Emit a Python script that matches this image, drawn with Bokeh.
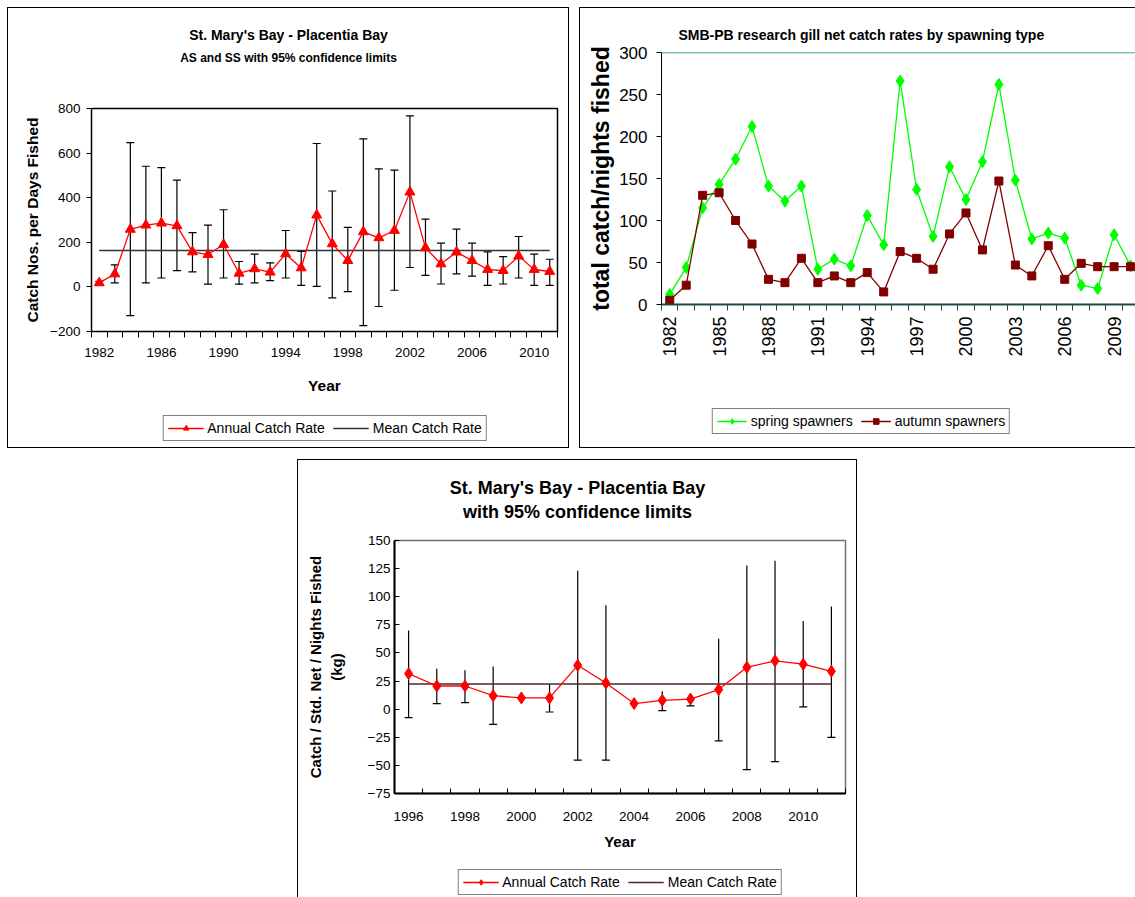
import math
from bokeh.plotting import figure
from bokeh.models import (ColumnDataSource, Whisker, TeeHead, Legend, LegendItem,
                          FixedTicker, Title, Span, Spacer, Range1d, InlineStyleSheet)
from bokeh.layouts import row, column
from bokeh.embed import file_html
from bokeh.resources import INLINE

SANS = "Liberation Sans"

# ---- St. Mary's Bay - Placentia Bay, AS and SS (catch numbers per days fished)
years_a = list(range(1982, 2012))
rate_a = [18, 58, 258, 277, 286, 274, 157, 145, 190, 61, 81, 66, 148, 85, 322,
          193, 118, 247, 220, 253, 425, 175, 103, 156, 118, 78, 73, 138, 78, 69]
upper_a = [25, 99, 647, 541, 535, 479, 243, 277, 346, 114, 147, 108, 253, 159, 643,
           430, 267, 664, 529, 524, 767, 304, 196, 259, 196, 157, 136, 226, 147, 124]
lower_a = [11, 18, -129, 18, 40, 73, 67, 12, 40, 12, 18, 28, 40, 7, 2,
           -49, -21, -174, -88, -15, 87, 52, 13, 58, 48, 7, 13, 40, 7, 7]
mean_a = 163
xticks_a = [1982, 1986, 1990, 1994, 1998, 2002, 2006, 2010]
yticks_a = [-200, 0, 200, 400, 600, 800]

# ---- SMB-PB research gill net catch rates by spawning type
years_b = list(range(1982, 2011))
spring_b = [12, 44, 115, 143, 173, 212, 141, 123, 141, 42, 54, 46, 106, 71, 266,
            137, 81, 164, 125, 170, 262, 148, 78, 85, 79, 23, 19, 83, 46]
autumn_b = [5, 23, 130, 133, 100, 72, 30, 26, 55, 26, 34, 26, 38, 15, 63,
            55, 42, 84, 109, 65, 147, 47, 34, 70, 30, 49, 45, 45, 45]
xticks_b = [1982, 1985, 1988, 1991, 1994, 1997, 2000, 2003, 2006, 2009]
yticks_b = [0, 50, 100, 150, 200, 250, 300]

# ---- St. Mary's Bay - Placentia Bay (kg per std. net per nights fished)
years_c = list(range(1996, 2012))
rate_c = [31.6, 20.6, 20.6, 12, 10, 10, 39, 23.3, 5, 7.9, 9, 17.4, 37.2, 43, 40, 33.7]
upper_c = [70, 36, 34.5, 38, 10, 22.4, 123, 92.5, 5, 16, 14, 62.6, 127.8, 132, 78.4, 91.3]
lower_c = [-7.5, 5, 5.8, -13.5, 10, -2.5, -45.4, -45.4, 5, -1.3, 3, -28.2, -53.7, -46.6, 2, -25]
mean_c = 22.4
xticks_c = [1996, 1998, 2000, 2002, 2004, 2006, 2008, 2010]
yticks_c = [-75, -50, -25, 0, 25, 50, 75, 100, 125, 150]

# glyph styles shared by the charts and their legend strips
RATE_LINE = dict(line_color="red", line_width=1.3)
TRI = dict(marker="triangle", size=10, color="red")
DIAM = dict(marker="diamond", size=12, color="red")
MEAN_A = dict(line_color="#333333", line_width=1.6)
MEAN_C = dict(line_color="#4a2a2a", line_width=1.6)
SPRING_LINE = dict(line_color="#00FF00", line_width=1.3)
SPRING_PTS = dict(marker="diamond", size=12, color="#00FF00")
AUTUMN_LINE = dict(line_color="#800000", line_width=1.3)
AUTUMN_PTS = dict(marker="square", size=8, color="#800000")

PANEL_FRAME = InlineStyleSheet(css=":host { outline: 1px solid #000; outline-offset: 0px; }")


def boundaries(years):
    return [y - 0.5 for y in years] + [years[-1] + 0.5]


def bare_fig(width, height, **kw):
    """Axis-less, frame-less figure used for the title and legend strips."""
    f = figure(width=width, height=height, output_backend="svg", toolbar_location=None,
               x_axis_location=None, y_axis_location=None,
               x_range=Range1d(0, 1), y_range=Range1d(0, 1), **kw)
    f.xgrid.visible = False
    f.ygrid.visible = False
    f.outline_line_color = None
    f.border_fill_color = "white"
    f.background_fill_color = "white"
    return f


def base_fig(width, height, xr, yr, borders, title=None):
    left, right, top, bottom = borders
    p = figure(width=width, height=height, x_range=xr, y_range=yr,
               output_backend="svg", toolbar_location=None, title=title,
               min_border_left=left, min_border_right=right,
               min_border_top=top, min_border_bottom=bottom)
    p.xgrid.visible = False
    p.ygrid.visible = False
    p.background_fill_color = "white"
    p.border_fill_color = "white"
    return p


def title_strip(width, height, top, main, main_size, main_standoff,
                sub, sub_size, sub_standoff):
    """Two centred bold title lines spanning the whole panel width."""
    tf = bare_fig(width, height, title=main, min_border_left=0, min_border_right=0,
                  min_border_bottom=0, min_border_top=top)
    tf.title.align = "center"
    tf.title.text_font = SANS
    tf.title.text_font_size = main_size
    tf.title.text_font_style = "bold"
    tf.title.text_color = "black"
    tf.title.standoff = main_standoff
    tf.add_layout(Title(text=sub, align="center", text_font=SANS, text_font_size=sub_size,
                        text_font_style="bold", text_color="black",
                        standoff=sub_standoff), "above")
    return tf


def legend_strip(width, height, entries, glyph_width, font_size):
    """A horizontal legend on its own strip.

    The series are re-plotted here with the same styles; the strip's ranges
    keep them out of view so that only the legend swatches show.
    """
    lf = bare_fig(width, height, min_border=0)
    items = []
    for label, parts in entries:
        rs = []
        for kind, xs, ys, kw in parts:
            if kind == "line":
                rs.append(lf.line(xs, ys, **kw))
            else:
                rs.append(lf.scatter(xs, ys, **kw))
        items.append(LegendItem(label=label, renderers=rs))
    leg = Legend(items=items, location="center", orientation="horizontal",
                 border_line_color="black", border_line_width=1,
                 label_text_font=SANS, label_text_font_size=font_size,
                 label_text_color="black", glyph_width=glyph_width, glyph_height=14,
                 spacing=8, padding=4, label_standoff=4, margin=0,
                 background_fill_color="white")
    lf.add_layout(leg)
    return lf


# ======================= panel 1 =======================
tf1 = title_strip(560, 70, 57, "St. Mary's Bay - Placentia Bay", "14px", 10,
                  "AS and SS with 95% confidence limits", "12px", 2)

p1 = base_fig(560, 334, Range1d(1981.5, 2011.5), Range1d(-200, 800), (83, 11, 30, 81))
p1.outline_line_color = "black"
p1.outline_line_width = 1.5

src_a = ColumnDataSource(dict(x=years_a, upper=upper_a, lower=lower_a))
p1.add_layout(Whisker(source=src_a, base="x", upper="upper", lower="lower",
                      line_color="black", line_width=1.2, level="underlay",
                      upper_head=TeeHead(size=8, line_color="black", line_width=1.2),
                      lower_head=TeeHead(size=8, line_color="black", line_width=1.2)))
mean_line_a = [mean_a] * len(years_a)
p1.line(years_a, mean_line_a, **MEAN_A)
p1.line(years_a, rate_a, **RATE_LINE)
p1.scatter(years_a, rate_a, **TRI)

for ax in (p1.xaxis[0], p1.yaxis[0]):
    ax.axis_line_color = "black"
    ax.major_label_text_font = SANS
    ax.major_label_text_font_size = "13.5px"
    ax.major_label_text_color = "black"
    ax.axis_label_text_font = SANS
    ax.axis_label_text_font_style = "bold"
    ax.axis_label_text_font_size = "15.5px"
    ax.axis_label_text_color = "black"

p1.xaxis.ticker = FixedTicker(ticks=xticks_a, minor_ticks=boundaries(years_a))
p1.xaxis.major_tick_line_color = None
p1.xaxis.minor_tick_line_color = "black"
p1.xaxis.minor_tick_in = 0
p1.xaxis.minor_tick_out = 6
p1.xaxis.major_label_standoff = 10
p1.xaxis.axis_label = "Year"
p1.xaxis.axis_label_standoff = 17

p1.yaxis.ticker = FixedTicker(ticks=yticks_a)
p1.yaxis.minor_tick_line_color = None
p1.yaxis.major_tick_in = 0
p1.yaxis.major_tick_out = 5
p1.yaxis.major_label_standoff = 6
p1.yaxis.axis_label = "Catch Nos. per Days Fished"
p1.yaxis.axis_label_standoff = 6

lf1 = legend_strip(467, 31, [
    ("Annual Catch Rate", [("line", years_a, rate_a, RATE_LINE),
                           ("scatter", years_a, rate_a, TRI)]),
    ("Mean Catch Rate", [("line", years_a, mean_line_a, MEAN_A)]),
], 36, "14px")

# ======================= panel 2 =======================
p2 = base_fig(555, 397, Range1d(1981.5, 2010.3), Range1d(0, 300), (81, 0, 44, 101),
              "SMB-PB research gill net catch rates by spawning type")
p2.title.align = "left"
p2.title.offset = 17
p2.title.text_font = SANS
p2.title.text_font_size = "14px"
p2.title.text_font_style = "bold"
p2.title.text_color = "black"
p2.title.standoff = 20
p2.outline_line_color = None
p2.add_layout(Span(location=300, dimension="width", line_color="#008080", line_width=1.5))

p2.line(years_b, spring_b, **SPRING_LINE)
p2.scatter(years_b, spring_b, **SPRING_PTS)
p2.line(years_b, autumn_b, **AUTUMN_LINE)
p2.scatter(years_b, autumn_b, **AUTUMN_PTS)

for ax in (p2.xaxis[0], p2.yaxis[0]):
    ax.major_label_text_font = SANS
    ax.major_label_text_font_size = "17px"
    ax.major_label_text_color = "black"
p2.xaxis.major_label_text_font_size = "18px"

p2.xaxis.ticker = FixedTicker(ticks=xticks_b, minor_ticks=boundaries(years_b))
p2.xaxis.axis_line_color = "#1f4a4a"
p2.xaxis.axis_line_width = 2
p2.xaxis.major_tick_line_color = None
p2.xaxis.minor_tick_line_color = "#1f4a4a"
p2.xaxis.minor_tick_in = 0
p2.xaxis.minor_tick_out = 6
p2.xaxis.major_label_orientation = math.pi / 2
p2.xaxis.major_label_standoff = 6

p2.yaxis.ticker = FixedTicker(ticks=yticks_b)
p2.yaxis.axis_line_color = "black"
p2.yaxis.minor_tick_line_color = None
p2.yaxis.major_tick_in = 0
p2.yaxis.major_tick_out = 5
p2.yaxis.major_label_standoff = 9
p2.yaxis.axis_label = "total catch/nights fished"
p2.yaxis.axis_label_text_font = SANS
p2.yaxis.axis_label_text_font_style = "bold"
p2.yaxis.axis_label_text_font_size = "23px"
p2.yaxis.axis_label_text_color = "black"
p2.yaxis.axis_label_standoff = 2

lf2 = legend_strip(400, 32, [
    ("spring spawners", [("line", years_b, spring_b, SPRING_LINE),
                         ("scatter", years_b, spring_b, SPRING_PTS)]),
    ("autumn spawners", [("line", years_b, autumn_b, AUTUMN_LINE),
                         ("scatter", years_b, autumn_b, AUTUMN_PTS)]),
], 30, "14px")

# ======================= panel 3 =======================
tf3 = title_strip(558, 70, 62, "St. Mary's Bay - Placentia Bay", "18px", 1,
                  "with 95% confidence limits", "18px", 2)

p3 = base_fig(558, 337, Range1d(1995.5, 2011.5), Range1d(-75, 150), (96, 11, 10, 74))
p3.outline_line_color = "#707070"
p3.outline_line_width = 1.5

src_c = ColumnDataSource(dict(x=years_c, upper=upper_c, lower=lower_c))
p3.add_layout(Whisker(source=src_c, base="x", upper="upper", lower="lower",
                      line_color="black", line_width=1.2, level="underlay",
                      upper_head=None,
                      lower_head=TeeHead(size=8, line_color="black", line_width=1.2)))
mean_line_c = [mean_c] * len(years_c)
p3.line(years_c, mean_line_c, **MEAN_C)
p3.line(years_c, rate_c, **RATE_LINE)
p3.scatter(years_c, rate_c, **DIAM)

for ax in (p3.xaxis[0], p3.yaxis[0]):
    ax.axis_line_color = "black"
    ax.axis_line_width = 2
    ax.major_label_text_font = SANS
    ax.major_label_text_font_size = "13.5px"
    ax.major_label_text_color = "black"
    ax.axis_label_text_font = SANS
    ax.axis_label_text_font_style = "bold"
    ax.axis_label_text_font_size = "15px"
    ax.axis_label_text_color = "black"

p3.xaxis.ticker = FixedTicker(ticks=xticks_c, minor_ticks=boundaries(years_c))
p3.xaxis.major_tick_line_color = None
p3.xaxis.minor_tick_line_color = "black"
p3.xaxis.minor_tick_in = 5
p3.xaxis.minor_tick_out = 0
p3.xaxis.major_label_standoff = 12
p3.xaxis.axis_label = "Year"
p3.xaxis.axis_label_standoff = 9

p3.yaxis.ticker = FixedTicker(ticks=yticks_c)
p3.yaxis.minor_tick_line_color = None
p3.yaxis.major_tick_in = 5
p3.yaxis.major_tick_out = 0
p3.yaxis.major_label_standoff = 4
p3.yaxis.axis_label = "Catch / Std. Net / Nights Fished\n(kg)"
p3.yaxis.axis_label_standoff = 20

lf3 = legend_strip(451, 30, [
    ("Annual Catch Rate", [("line", years_c, rate_c, RATE_LINE),
                           ("scatter", years_c, rate_c, DIAM)]),
    ("Mean Catch Rate", [("line", years_c, mean_line_c, MEAN_C)]),
], 36, "14px")

# ======================= page layout =======================
# Each strip sits in its own row so its frame is not lined up with the chart's.
panel1 = column(row(tf1), p1, row(Spacer(width=83, height=31), lf1),
                Spacer(width=560, height=4), stylesheets=[PANEL_FRAME])
panel2 = column(p2, row(Spacer(width=81, height=32), lf2), Spacer(width=555, height=10),
                stylesheets=[PANEL_FRAME])
panel3 = column(row(tf3), p3, row(Spacer(width=96, height=30), lf3),
                stylesheets=[PANEL_FRAME])

layout = column(
    Spacer(width=1135, height=8),
    row(Spacer(width=8, height=439), panel1, Spacer(width=12, height=439), panel2),
    Spacer(width=1135, height=13),
    row(Spacer(width=298, height=437), panel3),
)

open("out.html", "w").write(file_html(layout, INLINE))
